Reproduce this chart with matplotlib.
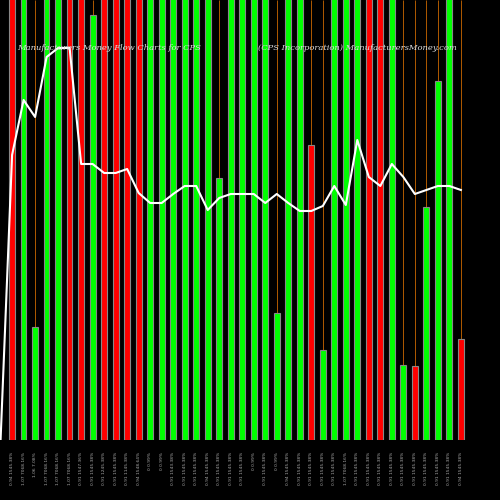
import matplotlib
matplotlib.use("Agg")
import matplotlib.pyplot as plt
import numpy as np

# bar heights in pixel-like units (440 = top of plot); 480 means clipped at top
bar_heights = [480, 480, 113, 480, 480, 480, 480, 425, 480, 480, 480, 480, 480, 480,
               480, 480, 480, 480, 262, 480, 480, 480, 480, 127, 480, 480, 295, 90,
               480, 480, 480, 480, 480, 480, 75, 74, 233, 359, 480, 101]
bar_colors = ["r", "g", "g", "g", "g", "r", "r", "g", "r", "r", "r", "r", "g", "g",
              "g", "g", "g", "g", "g", "g", "g", "g", "g", "g", "g", "g", "r", "g",
              "g", "g", "g", "r", "r", "g", "g", "r", "g", "g", "g", "r"]
price_line = [0, 285, 340, 323, 383, 392, 392, 276, 276, 267, 267, 271, 247, 237,
              237, 246, 254, 254, 230, 242, 246, 246, 246, 237, 246, 237, 229, 229,
              234, 254, 235, 300, 263, 254, 276, 263, 246, 250, 254, 254, 250]
tick_labels = ["0.94 1545.38%", "1.07 7068.16%", "1.06 7.08%", "1.07 7068.16%", "1.07 7068.16%",
               "1.07 7068.16%", "0.91 1547.36%", "0.91 1545.38%", "0.91 1245.38%", "0.91 1545.38%",
               "0.91 1145.38%", "0.94 1548.64%", "0 0.99%", "0 0.99%", "0.91 1543.38%",
               "0.91 1545.38%", "0.91 1545.38%", "0.94 1545.38%", "0.91 1545.38%", "0.91 1545.38%",
               "0.91 1545.38%", "0 0.99%", "0.91 1545.38%", "0 0.99%", "0.94 1545.38%",
               "0.91 1545.38%", "0.91 1545.38%", "0.91 1545.38%", "0.91 1545.38%", "1.07 7068.16%",
               "0.91 1545.38%", "0.91 1545.38%", "0.91 1545.38%", "0.91 1545.38%", "0.91 1545.38%",
               "0.91 1545.38%", "0.91 1545.38%", "0.91 1545.38%", "0.91 1545.38%", "0.94 1545.38%"]

palette = {"r": "#ff0000", "g": "#00ff00"}
x = np.arange(len(bar_heights))

fig = plt.figure(figsize=(5, 5), dpi=100, facecolor="black")
ax = fig.add_axes([0, 0.12, 1, 0.88], facecolor="black")

ax.vlines(x, 0, 440, color="#b05a00", linewidth=0.7, zorder=1)
ax.bar(x, bar_heights, width=0.5, color=[palette[c] for c in bar_colors],
       edgecolor="#888888", linewidth=0.8, zorder=2)
ax.plot(np.arange(-1, len(bar_heights)), price_line, color="white", linewidth=1.5, zorder=3)

ax.set_xlim(-1.05, 42.4)
ax.set_ylim(0, 440)
ax.axis("off")

for xi, lab in zip(x, tick_labels):
    ax.text(xi, -12, lab, rotation=90, ha="center", va="top", color="#aaaaaa",
            fontsize=3.2, clip_on=False)

fig.text(0.035, 0.905, "Manufacturers Money Flow Charts for CPS", color="#dddddd",
         fontsize=6, family="DejaVu Serif", style="italic", ha="left", va="center")
fig.text(0.515, 0.905, "(CPS Incorporation) ManufacturersMoney.com", color="#dddddd",
         fontsize=6, family="DejaVu Serif", style="italic", ha="left", va="center")

fig.savefig("out.png", dpi=100, facecolor="black")
